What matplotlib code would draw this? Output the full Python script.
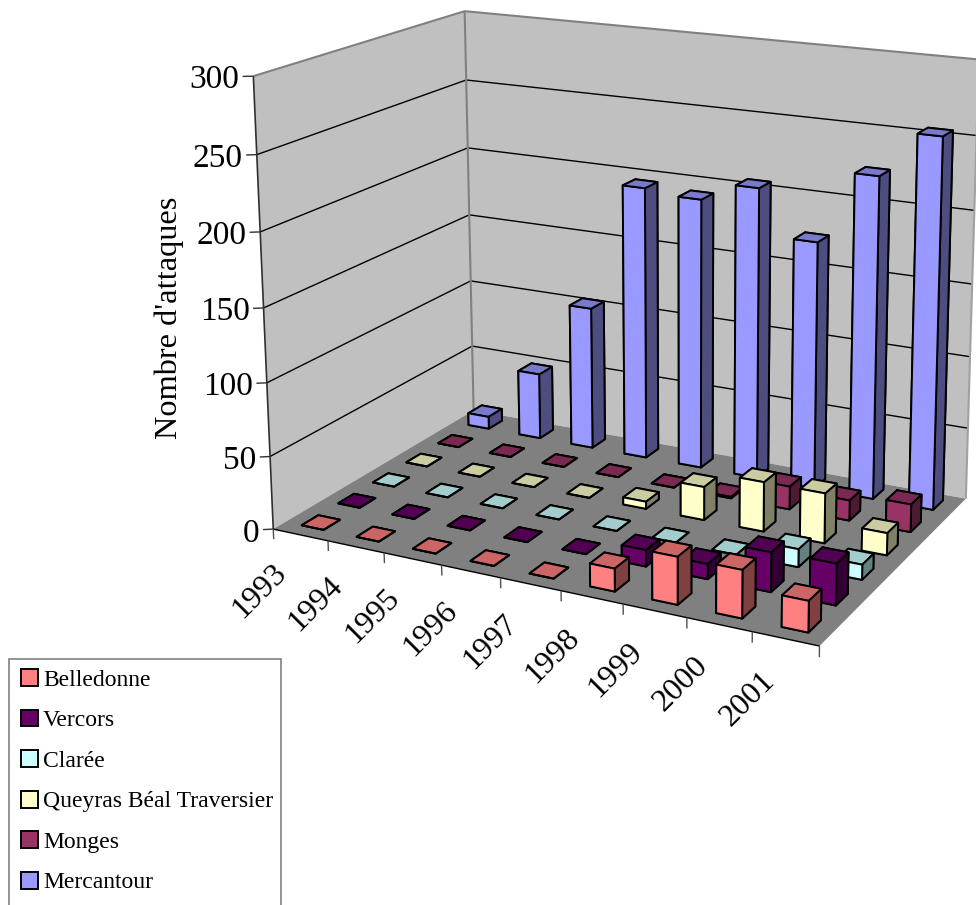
import numpy as np
import matplotlib
matplotlib.use("Agg")
import matplotlib.pyplot as plt
from matplotlib.patches import Patch, Rectangle
from mpl_toolkits.mplot3d.art3d import Poly3DCollection

years = ["1993","1994","1995","1996","1997","1998","1999","2000","2001"]
series = ["Belledonne","Vercors","Clarée","Queyras Béal Traversier","Monges","Mercantour"]
belledonne = [0,0,0,0,0,15,31,31,20]
vercors    = [0,0,0,0,0,11,10,26,27]
claree     = [0,0,0,0,0,0,0,12,10]
queyras    = [0,0,0,0,5,23,34,34,15]
monges     = [0,0,0,0,0,1,16,14,19]
mercantour = [9,48,103,195,192,205,173,223,254]
values = [belledonne,vercors,claree,queyras,monges,mercantour]
base_colors = ["#ff8080","#660066","#ccffff","#ffffcc","#993366","#9999ff"]
z_ticks = [0,50,100,150,200,250,300]

W, H = 976, 905
NX, NY, ZMAX = len(years), len(series), z_ticks[-1]

# camera calibration: (x, y, z) in data units -> reference pixel
calib = [
 (0,0,0,273,528),(0,0,50,270,456),(0,0,100,267,382),(0,0,150,263,307),(0,0,200,260,232),(0,0,250,257,156),(0,0,300,253,76),
 (0,6,0,473,412),(0,6,50,472,347),(0,6,100,471,281),(0,6,150,469,214),(0,6,200,468,148),(0,6,250,466,81),(0,6,300,465,10),
 (9,6,0,964,497),(9,6,50,969,428),(9,6,100,971,356),(9,6,150,973,284),(9,6,200,975,210),(9,6,250,976,136),(9,6,300,978,60),
 (9,0,0,819,642),(1,0,0,329,540),(2,0,0,385,551),(3,0,0,441,565),(4,0,0,501,579),(5,0,0,561,592),(6,0,0,623,605),(7,0,0,686,620),(8,0,0,753,635),
]
rows = []
for x,y,z,u,v in calib:
    X = np.array([x/NX, y/NY, z/ZMAX, 1.0]); u/=1000; v/=1000
    rows.append(np.r_[X, np.zeros(4), -u*X])
    rows.append(np.r_[np.zeros(4), X, -v*X])
p = np.linalg.svd(np.array(rows))[2][-1].reshape(3,4)
P = np.diag([1000.,1000.,1.]) @ p @ np.diag([1/NX,1/NY,1/ZMAX,1.])
if (P[2] @ np.array([0,0,0,1.])) < 0:
    P = -P

def project(x,y,z):
    h = P @ np.array([x,y,z,1.0])
    return h[0]/h[2], h[1]/h[2]

fig = plt.figure(figsize=(W/100,H/100), dpi=100, facecolor="white")
ax = fig.add_axes([0,0,1,1], projection="3d")
ax.set_axis_off()
ax.patch.set_visible(False)
ax.computed_zorder = False

def get_proj():
    inv = ax.transData.inverted().get_matrix()
    S = np.array([[1,0,0],[0,-1,H],[0,0,1.]])
    Q = inv @ S @ P
    return np.array([Q[0],Q[1],[0,0,0,-1.],Q[2]])
ax.get_proj = get_proj

def poly(verts,color,z):
    c = Poly3DCollection([verts],facecolors=color,edgecolors="none",zorder=z)
    c.set_clip_on(False)
    ax.add_collection3d(c)
poly([(0,0,0),(0,NY,0),(0,NY,ZMAX),(0,0,ZMAX)],"#c0c0c0",1)
poly([(0,NY,0),(NX,NY,0),(NX,NY,ZMAX),(0,NY,ZMAX)],"#c0c0c0",1)
poly([(0,0,0),(NX,0,0),(NX,NY,0),(0,NY,0)],"#808080",2)

def line(xs,ys,zs,color="black",lw=1.0,z=3):
    ax.plot(xs,ys,zs,color=color,lw=lw,zorder=z,clip_on=False,solid_capstyle="butt")

for v in z_ticks[1:-1]:
    line([0,0,NX],[0,NY,NY],[v,v,v],lw=1.0)
line([0,0,NX],[0,NY,NY],[ZMAX]*3,color="#808080",lw=1.5)
line([0,0],[NY,NY],[0,ZMAX],color="#808080",lw=1.5)
line([NX,NX],[NY,NY],[0,ZMAX],color="#a0a0a0",lw=1.5)
line([0,0],[0,0],[0,ZMAX],color="#303030",lw=1.2,z=4)
line([0,NX],[0,0],[0,0],color="black",lw=1.0,z=4)
for v in z_ticks:
    line([0,-0.127],[0,-0.087],[v,v],color="#303030",lw=1.0,z=4)
    u0,v0 = project(-0.17,-0.116,v)
    fig.text(u0/W,1-v0/H,str(v),ha="right",va="center_baseline",fontsize=24,family="Liberation Serif")
for i in range(NX+1):
    line([i,i],[0,0],[0,-7],color="#505050",lw=1.0,z=4)
for i,yr in enumerate(years):
    u0,v0 = project(i-0.05+0.17*i/8,0,-21)
    fig.text(u0/W,1-v0/H,yr,ha="right",va="top",rotation=45,rotation_mode="anchor",fontsize=23,family="Liberation Serif")
fig.text(169/W,1-318/H,"Nombre d'attaques",rotation=90,ha="center",va="center",fontsize=23.3,family="Liberation Serif")

def shade(hexc,f):
    return tuple(np.array(matplotlib.colors.to_rgb(hexc))*f)

BAR_DX, BAR_DY = 0.40, 0.45
BAR_YC = 0.55
order = 10
for j in range(NY-1,-1,-1):
    base = base_colors[j]
    top, side = shade(base,0.8), shade(base,0.5)
    faces = [top,top,base,base,side,side]
    for i in range(NX):
        c = ax.bar3d(i+0.5-BAR_DX/2, j+BAR_YC-BAR_DY/2, 0, BAR_DX, BAR_DY, values[j][i],
                     color=faces, edgecolor="black", linewidth=1.4, shade=False, zorder=order)
        c.set_clip_on(False)
        order += 1

fig.add_artist(Rectangle((9/W,1-915/H),272/W,256/H,transform=fig.transFigure,facecolor="white",edgecolor="#808080",lw=1.2,zorder=5))
handles = [Patch(facecolor=c,edgecolor="black",linewidth=1.4) for c in base_colors]
leg = fig.legend(handles,series,loc="upper left",bbox_to_anchor=(21/W,1-669/H),bbox_transform=fig.transFigure,
           prop={"family":"Liberation Serif","size":17},frameon=False,borderpad=0,borderaxespad=0,labelspacing=0.80,
           handlelength=0.72,handleheight=0.72,handletextpad=0.22)
leg.set_zorder(6)
fig.savefig("out.png",dpi=100,facecolor="white")
